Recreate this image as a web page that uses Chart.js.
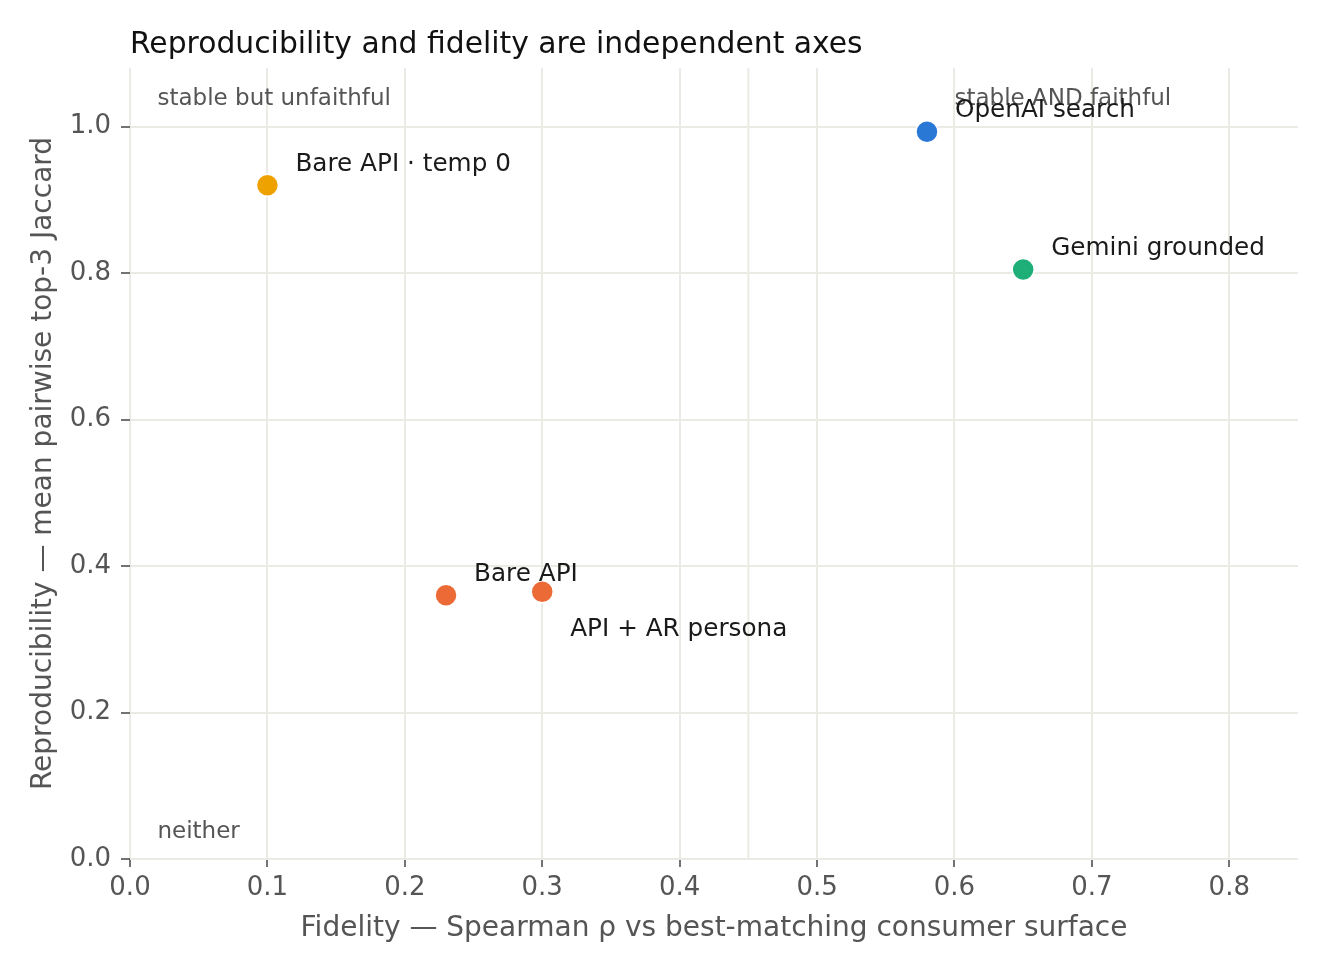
<!DOCTYPE html>
<html>
<head>
<meta charset="utf-8">
<script src="https://cdn.jsdelivr.net/npm/chart.js@4"></script>
<style>
  html, body { margin: 0; padding: 0; background: #fff; }
  #wrap { width: 1332px; height: 972px; }
</style>
</head>
<body>
<div id="wrap"><canvas id="scatter"></canvas></div>
<script>
// data
const setups = ['Bare API · temp 0', 'OpenAI search', 'Gemini grounded', 'Bare API', 'API + AR persona']
const fidelity = [0.10, 0.58, 0.65, 0.23, 0.30]
const reproducibility = [0.92, 0.993, 0.805, 0.36, 0.365]
const quadrantNames = ['stable but unfaithful', 'stable AND faithful', 'neither']
const quadrantX = [0.02, 0.60, 0.02]
const quadrantY = [1.04, 1.04, 0.04]
const splitX = 0.45
const xTicks = [0, 0.1, 0.2, 0.3, 0.4, 0.5, 0.6, 0.7, 0.8]
const yTicks = [0, 0.2, 0.4, 0.6, 0.8, 1.0]

const dotColors = ['#eea200', '#2a78d6', '#1eae78', '#ec6a36', '#ec6a36']
const gridColor = '#ebebe5'
const font = 'DejaVu Sans'

const ctx = document.getElementById('scatter')

// text + split line drawn on top of the scales
const extras = {
    id: 'extras',
    beforeDatasetsDraw(chart) {
        const { ctx, scales: { x }, chartArea } = chart
        ctx.save()
        ctx.strokeStyle = gridColor
        ctx.lineWidth = 2
        ctx.beginPath()
        ctx.moveTo(x.getPixelForValue(splitX), chartArea.top)
        ctx.lineTo(x.getPixelForValue(splitX), chartArea.bottom)
        ctx.stroke()
        ctx.restore()
    },
    afterDatasetsDraw(chart) {
        const { ctx, scales: { x, y } } = chart
        ctx.save()
        ctx.textBaseline = 'middle'
        ctx.textAlign = 'left'
        // quadrant notes
        ctx.fillStyle = '#555555'
        ctx.font = `23px "${font}"`
        quadrantNames.forEach((q, i) => {
            ctx.fillText(q, x.getPixelForValue(quadrantX[i]), y.getPixelForValue(quadrantY[i]) + 2)
        })
        // point labels
        ctx.fillStyle = '#1a1a1a'
        ctx.font = `24.7px "${font}"`
        setups.forEach((name, i) => {
            const px = x.getPixelForValue(fidelity[i])
            const py = y.getPixelForValue(reproducibility[i])
            const dy = name === 'API + AR persona' ? 38 : -21
            ctx.fillText(name, px + 28, py + dy)
        })
        // title
        ctx.fillStyle = '#111111'
        ctx.font = `29.8px "${font}"`
        ctx.textBaseline = 'alphabetic'
        ctx.fillText('Reproducibility and fidelity are independent axes', chart.chartArea.left, 53)
        ctx.restore()
    }
}

new Chart(ctx, {
    type: 'scatter',
    data: {
        datasets: [{
            data: fidelity.map((f, i) => ({ x: f, y: reproducibility[i] })),
            backgroundColor: dotColors,
            borderColor: '#ffffff',
            borderWidth: 1.5,
            pointRadius: 11,
            pointHoverRadius: 11
        }]
    },
    options: {
        responsive: true,
        maintainAspectRatio: false,
        animation: false,
        layout: { padding: { top: 68, right: 34, left: 0, bottom: 0 } },
        plugins: { legend: { display: false }, tooltip: { enabled: false } },
        scales: {
            x: {
                type: 'linear',
                min: 0,
                max: 0.85,
                afterBuildTicks: axis => { axis.ticks = xTicks.map(v => ({ value: v })) },
                afterFit: axis => { axis.height = 113 },
                border: { display: false },
                grid: { color: gridColor, lineWidth: 2, tickLength: 8, tickColor: '#444444', tickWidth: 1.5 },
                ticks: {
                    color: '#555555',
                    font: { family: font, size: 26 },
                    padding: 6,
                    maxRotation: 0,
                    callback: v => v.toFixed(1)
                },
                title: {
                    display: true,
                    text: 'Fidelity — Spearman ρ vs best-matching consumer surface',
                    color: '#555555',
                    font: { family: font, size: 28 },
                    padding: { top: 0, bottom: 26 }
                }
            },
            y: {
                type: 'linear',
                min: 0,
                max: 1.08,
                afterBuildTicks: axis => { axis.ticks = yTicks.map(v => ({ value: v })) },
                afterFit: axis => { axis.width = 130 },
                border: { display: false },
                grid: { color: gridColor, lineWidth: 2, tickLength: 9, tickColor: '#444444', tickWidth: 1.5 },
                ticks: {
                    color: '#555555',
                    font: { family: font, size: 26 },
                    padding: 10,
                    callback: v => v.toFixed(1)
                },
                title: {
                    display: true,
                    text: 'Reproducibility — mean pairwise top-3 Jaccard',
                    color: '#555555',
                    font: { family: font, size: 28 },
                    padding: { top: 27, bottom: 0 }
                }
            }
        }
    },
    plugins: [extras]
})
</script>
</body>
</html>
